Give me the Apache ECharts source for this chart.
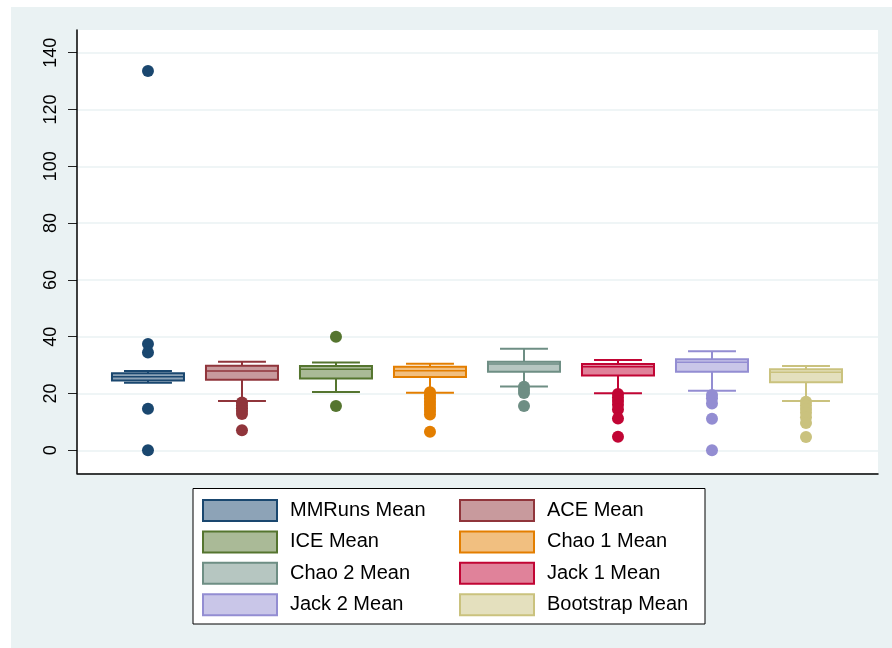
<!DOCTYPE html>
<html>
<head>
<meta charset="utf-8">
<script src="https://cdn.jsdelivr.net/npm/echarts@6/dist/echarts.min.js"></script>
<style>
  html, body { margin: 0; padding: 0; background: #fff; }
  #chart { width: 892px; height: 648px; }
</style>
</head>
<body>
<div id="chart"></div>
<script>
// ---- data ----
const categories = ['MMRuns Mean', 'ACE Mean', 'ICE Mean', 'Chao 1 Mean', 'Chao 2 Mean', 'Jack 1 Mean', 'Jack 2 Mean', 'Bootstrap Mean'];
const lowerWhisker = [23.8, 17.4, 20.5, 20.3, 22.5, 20.1, 21.0, 17.4];
const q1Values     = [24.6, 24.8, 25.3, 25.8, 27.7, 26.3, 27.7, 24.0];
const medianValues = [25.9, 27.9, 28.5, 28.0, 30.4, 29.4, 31.0, 27.5];
const q3Values     = [27.1, 29.8, 29.7, 29.4, 31.2, 30.4, 32.1, 28.5];
const upperWhisker = [27.9, 31.2, 30.9, 30.5, 35.8, 31.8, 34.9, 29.7];
const outliers = [
  [133.6, 37.4, 34.4, 14.6, 0],
  [16.8, 15.8, 14.8, 13.8, 12.8, 7.1],
  [40.0, 15.6],
  [20.4, 19.3, 18.2, 17.1, 16.0, 14.9, 13.8, 12.6, 6.5],
  [22.4, 21.2, 20.2, 15.6],
  [19.8, 18.6, 17.4, 16.0, 14.4, 11.2, 4.8],
  [19.5, 18.3, 16.5, 11.1, 0],
  [17.1, 15.8, 14.5, 13.2, 11.6, 9.6, 4.7]
];
const yTickMin = 0, yTickMax = 140, yTickStep = 20;

// ---- styles ----
const lineColors = ['#1A476F', '#90353B', '#55752F', '#E37E00', '#6E8E84', '#C10534', '#938DD2', '#CAC27E'];
const fillColors = ['#8DA3B7', '#C89A9D', '#AABA97', '#F1BF80', '#B6C6C1', '#E0829A', '#C9C6E8', '#E4E0BE'];
const FONT = '"Liberation Sans", Arial, Helvetica, sans-serif';
const BOX_W = 0.766, CAP_W = 0.51;

const chart = echarts.init(document.getElementById('chart'), null, { renderer: 'canvas' });

function makeRender(i) {
  return function (params, api) {
    const x = api.value(0);
    const pLo = api.coord([x, api.value(1)]);
    const pQ1 = api.coord([x, api.value(2)]);
    const pMed = api.coord([x, api.value(3)]);
    const pQ3 = api.coord([x, api.value(4)]);
    const pHi = api.coord([x, api.value(5)]);
    const bw = api.size([BOX_W, 0])[0];
    const cw = api.size([CAP_W, 0])[0];
    const cx = pMed[0];
    const ls = { stroke: lineColors[i], lineWidth: 2 };
    return {
      type: 'group',
      children: [
        { type: 'line', shape: { x1: cx, y1: pLo[1], x2: cx, y2: pQ1[1] }, style: ls },
        { type: 'line', shape: { x1: cx, y1: pQ3[1], x2: cx, y2: pHi[1] }, style: ls },
        { type: 'line', shape: { x1: cx - cw / 2, y1: pLo[1], x2: cx + cw / 2, y2: pLo[1] }, style: ls },
        { type: 'line', shape: { x1: cx - cw / 2, y1: pHi[1], x2: cx + cw / 2, y2: pHi[1] }, style: ls },
        { type: 'rect', shape: { x: cx - bw / 2, y: pQ3[1], width: bw, height: pQ1[1] - pQ3[1] },
          style: { fill: fillColors[i], stroke: lineColors[i], lineWidth: 2 } },
        { type: 'line', shape: { x1: cx - bw / 2, y1: pMed[1], x2: cx + bw / 2, y2: pMed[1] },
          style: { stroke: lineColors[i], lineWidth: 1.5 } }
      ]
    };
  };
}

const series = [];
categories.forEach((name, i) => {
  series.push({
    name: name,
    type: 'custom',
    xAxisIndex: 0, yAxisIndex: 0,
    z: 4,
    renderItem: makeRender(i),
    itemStyle: { color: fillColors[i], borderColor: lineColors[i] },
    data: [[i + 1, lowerWhisker[i], q1Values[i], medianValues[i], q3Values[i], upperWhisker[i]]],
    animation: false,
    silent: true
  });
  series.push({
    name: name,
    type: 'scatter',
    xAxisIndex: 0, yAxisIndex: 0,
    z: 5,
    symbol: 'circle',
    symbolSize: 12,
    itemStyle: { color: lineColors[i], opacity: 1 },
    data: outliers[i].map(v => [i + 1, v]),
    animation: false,
    silent: true
  });
});

function legendItems(idx) {
  return idx.map(i => ({
    name: categories[i],
    icon: 'rect',
    itemStyle: { color: fillColors[i], borderColor: lineColors[i], borderWidth: 2 }
  }));
}

const legendCommon = {
  orient: 'vertical',
  itemWidth: 74,
  itemHeight: 21,
  itemGap: 8.4,
  padding: 0,
  selectedMode: false,
  z: 6,
  textStyle: { fontFamily: FONT, fontSize: 20, color: '#000', padding: [0, 0, 0, 8] }
};

const option = {
  backgroundColor: '#ffffff',
  animation: false,
  graphic: [
    { type: 'rect', z: 0, silent: true, shape: { x: 11, y: 7, width: 881, height: 641 }, style: { fill: '#EAF2F3' } },
    { type: 'rect', z: 1, silent: true, shape: { x: 77, y: 30, width: 801, height: 443 }, style: { fill: '#ffffff' } },
    { type: 'rect', z: 1, silent: true, shape: { x: 193, y: 488.5, width: 512, height: 135.5 }, style: { fill: '#ffffff', stroke: '#000', lineWidth: 1 } }
  ],
  grid: [
    { left: 77, top: 30, width: 801, height: 443.3, containLabel: false },
    { left: 77, top: 52.7, width: 801, height: 397.6, containLabel: false }
  ],
  xAxis: [
    { gridIndex: 0, type: 'value', min: 0.245, max: 8.766, z: 3,
      axisLine: { show: true, onZero: false, lineStyle: { color: '#000', width: 1.5 } },
      axisTick: { show: false }, axisLabel: { show: false }, splitLine: { show: false } },
    { gridIndex: 1, type: 'value', min: 0, max: 1, show: false }
  ],
  yAxis: [
    { gridIndex: 0, type: 'value', min: -8.1, max: 148.0, z: 3,
      axisLine: { show: true, onZero: false, lineStyle: { color: '#000', width: 1.5 } },
      axisTick: { show: false }, axisLabel: { show: false }, splitLine: { show: false } },
    { gridIndex: 1, type: 'value', min: yTickMin, max: yTickMax, interval: yTickStep, z: 2,
      axisLine: { show: false },
      axisTick: { show: true, inside: false, length: 9, lineStyle: { color: '#222', width: 1 } },
      axisLabel: { show: true, rotate: 90, margin: 17, fontSize: 18, fontFamily: FONT, color: '#000' },
      splitLine: { show: true, lineStyle: { color: '#EAF2F3', width: 1.5 } } }
  ],
  legend: [
    Object.assign({}, legendCommon, { left: 202, top: 499, data: legendItems([0, 2, 4, 6]) }),
    Object.assign({}, legendCommon, { left: 459, top: 499, data: legendItems([1, 3, 5, 7]) })
  ],
  series: series
};

chart.setOption(option);
</script>
</body>
</html>
